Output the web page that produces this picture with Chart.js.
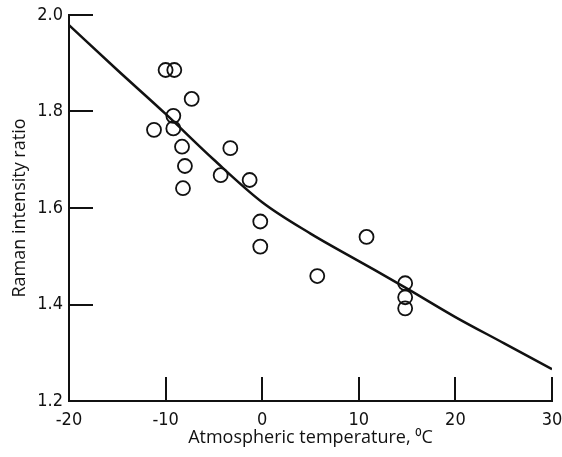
<!DOCTYPE html>
<html>
<head>
<meta charset="utf-8">
<script src="https://cdn.jsdelivr.net/npm/chart.js@4.4.1/dist/chart.umd.min.js"></script>
<style>
  html, body { margin: 0; padding: 0; background: #fff; }
  #wrap { width: 562px; height: 457px; }
  canvas { background: #fff; }
</style>
</head>
<body>
<div id="wrap"><canvas id="c" width="562" height="457"></canvas></div>
<script>
// Observed data (circles)
const obsTemp  = [-10.0, -9.1, -7.3, -9.2, -9.2, -11.2, -8.3, -3.3, -8.0, -4.3, -1.3, -8.2, -0.2, -0.2, 10.8, 5.7, 14.8, 14.8, 14.8];
const obsRatio = [1.886, 1.886, 1.826, 1.791, 1.765, 1.762, 1.727, 1.724, 1.687, 1.668, 1.658, 1.641, 1.572, 1.520, 1.540, 1.459, 1.444, 1.415, 1.392];

// Theoretical curve
const curveTemp  = [-20, -15, -10, -5, 0, 5, 10, 15, 20, 25, 30];
const curveRatio = [1.979, 1.886, 1.795, 1.700, 1.612, 1.547, 1.490, 1.433, 1.374, 1.320, 1.266];

// Tick values
const xTickValues = [-20, -10, 0, 10, 20, 30];
const yTickValues = [1.2, 1.4, 1.6, 1.8, 2.0];

const tickFont = { family: '"Liberation Sans Narrow", "DejaVu Sans Condensed", "Roboto", sans-serif', size: 18 };
const titleFont = { family: '"Open Sans", "DejaVu Sans", sans-serif', size: 18 };

const innerTicks = {
  id: 'innerTicks',
  afterDatasetsDraw(chart) {
    const ctx = chart.ctx;
    const xs = chart.scales.x, ys = chart.scales.y;
    ctx.save();
    ctx.strokeStyle = '#111';
    ctx.lineWidth = 2;
    ctx.beginPath();
    xs.ticks.forEach(t => {
      const px = Math.round(xs.getPixelForValue(t.value));
      ctx.moveTo(px, ys.bottom);
      ctx.lineTo(px, ys.bottom - 24);
    });
    ys.ticks.forEach(t => {
      const py = Math.round(ys.getPixelForValue(t.value));
      ctx.moveTo(xs.left, py);
      ctx.lineTo(xs.left + 24, py);
    });
    ctx.stroke();
    ctx.restore();
  }
};

new Chart(document.getElementById('c'), {
  type: 'scatter',
  data: {
    datasets: [
      {
        type: 'line',
        data: curveTemp.map((x, i) => ({ x, y: curveRatio[i] })),
        borderColor: '#111',
        borderWidth: 2.5,
        pointRadius: 0,
        fill: false,
        cubicInterpolationMode: 'monotone'
      },
      {
        data: obsTemp.map((x, i) => ({ x, y: obsRatio[i] })),
        pointStyle: 'circle',
        pointRadius: 7,
        pointBorderWidth: 1.8,
        borderColor: '#111',
        backgroundColor: 'rgba(0,0,0,0)',
        pointBackgroundColor: 'rgba(0,0,0,0)'
      }
    ]
  },
  options: {
    responsive: false,
    animation: false,
    events: [],
    layout: { padding: { top: 15, right: 10, left: 0, bottom: 0 } },
    plugins: { legend: { display: false }, tooltip: { enabled: false } },
    scales: {
      x: {
        type: 'linear',
        min: -20, max: 30,
        afterBuildTicks: s => { s.ticks = xTickValues.map(v => ({ value: v })); },
        afterFit: s => { s.height = 56; s.paddingRight = 0; s.paddingLeft = 0; },
        grid: { drawOnChartArea: false, drawTicks: false },
        border: { display: true, color: '#111', width: 2 },
        ticks: { color: '#111', font: tickFont, padding: 9, maxRotation: 0, callback: v => String(v) },
        title: { display: true, text: 'Atmospheric temperature, \u2070C', color: '#111', font: titleFont, padding: { top: 0, bottom: 8 } }
      },
      y: {
        type: 'linear',
        min: 1.2, max: 2.0,
        afterBuildTicks: s => { s.ticks = yTickValues.map(v => ({ value: v })); },
        afterFit: s => { s.width = 69; s.paddingTop = 0; s.paddingBottom = 0; },
        grid: { drawOnChartArea: false, drawTicks: false },
        border: { display: true, color: '#111', width: 2 },
        ticks: { color: '#111', font: tickFont, padding: 6, callback: v => Number(v).toFixed(1) },
        title: { display: true, text: 'Raman intensity ratio', color: '#111', font: titleFont, padding: { top: 9, bottom: 0 } }
      }
    }
  },
  plugins: [innerTicks]
});
</script>
</body>
</html>
